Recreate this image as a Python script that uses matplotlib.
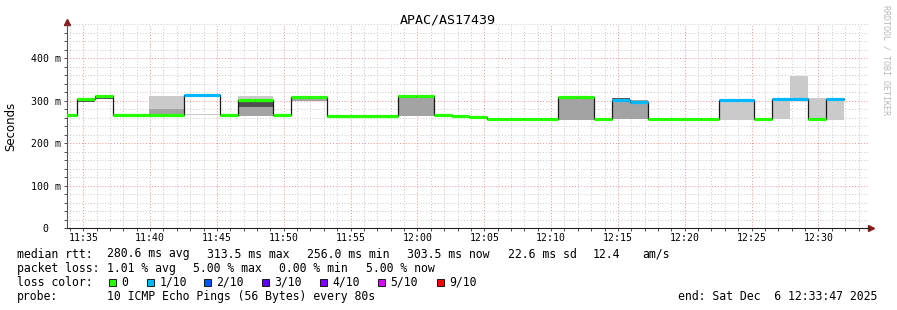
import matplotlib
matplotlib.use('Agg')
import matplotlib.pyplot as plt
import matplotlib.dates as mdates
from matplotlib.patches import Rectangle
from matplotlib.ticker import MultipleLocator, FuncFormatter
from datetime import datetime, timedelta

plt.rcParams['font.family'] = ['DejaVu Sans Mono', 'DejaVu Sans']

# one value per 80 s step, starting 11:33:13
median = [267, 303, 310, 267, 267, 267, 265.5, 313.5, 313.5, 266,
          301.5, 301.5, 265.5, 309, 309, 264.5, 264.5, 264.5, 264.5, 310.5,
          310.5, 265.5, 264.5, 261, 256, 256, 256, 256, 309.5, 309.5,
          256, 302.5, 296, 256, 256, 256, 257, 301, 302.5, 257,
          304, 304, 257, 304]
loss = [0, 0, 0, 0, 0, 0, 0, 1, 1, 0,
        0, 0, 0, 0, 0, 0, 0, 0, 0, 0,
        0, 0, 0, 0, 0, 0, 0, 0, 0, 0,
        0, 1, 1, 0, 0, 0, 0, 1, 1, 0,
        1, 1, 0, 1]

# smoke bands: (step index, low, high)
light_smoke = [(5, 267, 311), (6, 267, 311), (7, 267, 269), (8, 267, 269),
               (10, 264, 310), (11, 264, 310), (37, 254.5, 301), (38, 254.5, 302.5),
               (40, 257.5, 304), (41, 304, 358), (42, 255, 305.5), (43, 255, 304)]
mid_smoke = [(5, 267, 281), (6, 265.5, 281), (10, 264, 299), (11, 264, 299),
             (13, 300, 306), (14, 300, 306), (19, 264, 310.5), (20, 264, 310.5),
             (28, 255, 309.5), (29, 255, 309.5), (31, 256, 305.5), (32, 256, 301)]
dark_smoke = [(1, 297.5, 299.5), (2, 303, 306), (10, 284, 298), (11, 284, 298),
              (31, 304.5, 306.5)]

loss_labels = ['0', '1/10', '2/10', '3/10', '4/10', '5/10', '9/10']
loss_colors = ['#26ff00', '#00b8ff', '#0059ff', '#5e00ff', '#7e00ff', '#dd00ff', '#ff0000']

stats_rtt = ['280.6 ms avg', '313.5 ms max', '256.0 ms min', '303.5 ms now', '22.6 ms sd', '12.4', 'am/s']
stats_loss = ['1.01 % avg', '5.00 % max', '0.00 % min', '5.00 % now']

t_first = datetime(2025, 12, 6, 11, 33, 13)
t_end = datetime(2025, 12, 6, 12, 33, 47)
step = timedelta(seconds=80)

W, H = 897, 310
fig = plt.figure(figsize=(W / 100, H / 100), dpi=100)
fig.patch.set_facecolor('white')
ax = fig.add_axes([67 / W, (H - 228) / H, 802 / W, 203.7 / H])

starts = [t_first + i * step for i in range(len(median))]
xs = mdates.date2num(starts)
wd = 80 / 86400.0


def draw_smoke(bands, color):
    for i, lo, hi in bands:
        ax.bar(xs[i], hi - lo, bottom=lo, width=wd, align='edge', color=color, linewidth=0, zorder=2)


draw_smoke(light_smoke, '#cacaca')
draw_smoke(mid_smoke, '#a3a3a3')
draw_smoke(dark_smoke, '#505050')

edges = list(xs) + [xs[-1] + wd]
ax.step(edges, median + [median[-1]], where='post', color='#1a1a1a', lw=0.9, zorder=3)
lc = ax.hlines(median, xs, xs + wd, colors=[loss_colors[l] for l in loss], lw=2.3, zorder=4)
lc.set_capstyle('butt')

ax.set_xlim(mdates.date2num(t_first + timedelta(seconds=34)), mdates.date2num(t_end))
ax.set_ylim(0, 480)

ax.xaxis.set_major_locator(mdates.MinuteLocator(byminute=range(0, 60, 5)))
ax.xaxis.set_minor_locator(mdates.MinuteLocator())
ax.xaxis.set_major_formatter(mdates.DateFormatter('%H:%M'))
ax.yaxis.set_major_locator(MultipleLocator(100))
ax.yaxis.set_minor_locator(MultipleLocator(20))
ax.yaxis.set_major_formatter(FuncFormatter(lambda v, p: '0  ' if v == 0 else '%d m' % v))

ax.set_axisbelow(True)
ax.grid(which='minor', color='#c8c8c8', linestyle=(0, (1, 2)), lw=0.7)
ax.grid(which='major', color='#f09090', linestyle=(0, (1, 2)), lw=0.7)
ax.tick_params(which='both', direction='out', length=2, width=0.7, color='#505050',
               labelsize=7.1, pad=2)
ax.tick_params(axis='x', pad=1.5)

for s in ['top', 'right']:
    ax.spines[s].set_visible(False)
ax.spines['left'].set_color('#555555')
ax.spines['bottom'].set_color('#222222')
ax.spines['left'].set_linewidth(0.8)
ax.spines['bottom'].set_linewidth(0.8)
ax.plot([0], [1.01], marker='^', ms=4, color='#8b1a1a', transform=ax.transAxes, clip_on=False)
ax.plot([1.003], [0], marker='>', ms=4, color='#8b1a1a', transform=ax.transAxes, clip_on=False)
ax.set_facecolor('white')


def px(x, y):
    return x / W, 1 - y / H


fig.text(*px(448, 23.5), 'APAC/AS17439', ha='center', va='baseline', fontsize=9.6)
fig.text(*px(11, 126), 'Seconds', ha='center', va='center', rotation=90,
         fontsize=8.5, family='DejaVu Sans')
fig.text(*px(886, 60), 'RRDTOOL / TOBI OETIKER', ha='center', va='center', rotation=270,
         fontsize=6, color='#b8b8b8')

fs = 8.3
rows = [257.5, 271.7, 285.9, 300.1]
fig.text(*px(16.7, rows[0]), 'median rtt:', va='baseline', fontsize=fs)
for s, x in zip(stats_rtt, [107.3, 207.3, 307.3, 407.3, 507.7, 593, 642.3]):
    fig.text(*px(x, rows[0]), s, va='baseline', fontsize=fs)
fig.text(*px(16.7, rows[1]), 'packet loss:', va='baseline', fontsize=fs)
for s, x in zip(stats_loss, [107.3, 193.3, 279.3, 365.7]):
    fig.text(*px(x, rows[1]), s, va='baseline', fontsize=fs)
fig.text(*px(16.7, rows[2]), 'loss color:', va='baseline', fontsize=fs)
box_x = [108.5, 146.5, 203.5, 261.5, 319.5, 377.5, 436.5]
for lab, col, bx in zip(loss_labels, loss_colors, box_x):
    fig.add_artist(Rectangle(px(bx, rows[2] + 0.5), 7.5 / W, 7.5 / H, transform=fig.transFigure,
                             facecolor=col, edgecolor='black', lw=0.6))
    fig.text(*px(bx + 13, rows[2]), lab, va='baseline', fontsize=fs)
fig.text(*px(16.7, rows[3]), 'probe:', va='baseline', fontsize=fs)
fig.text(*px(107.3, rows[3]), '10 ICMP Echo Pings (56 Bytes) every 80s', va='baseline', fontsize=fs)
fig.text(*px(678.3, rows[3]), 'end: Sat Dec  6 12:33:47 2025', va='baseline', fontsize=fs)

fig.savefig('out.png', dpi=100)
